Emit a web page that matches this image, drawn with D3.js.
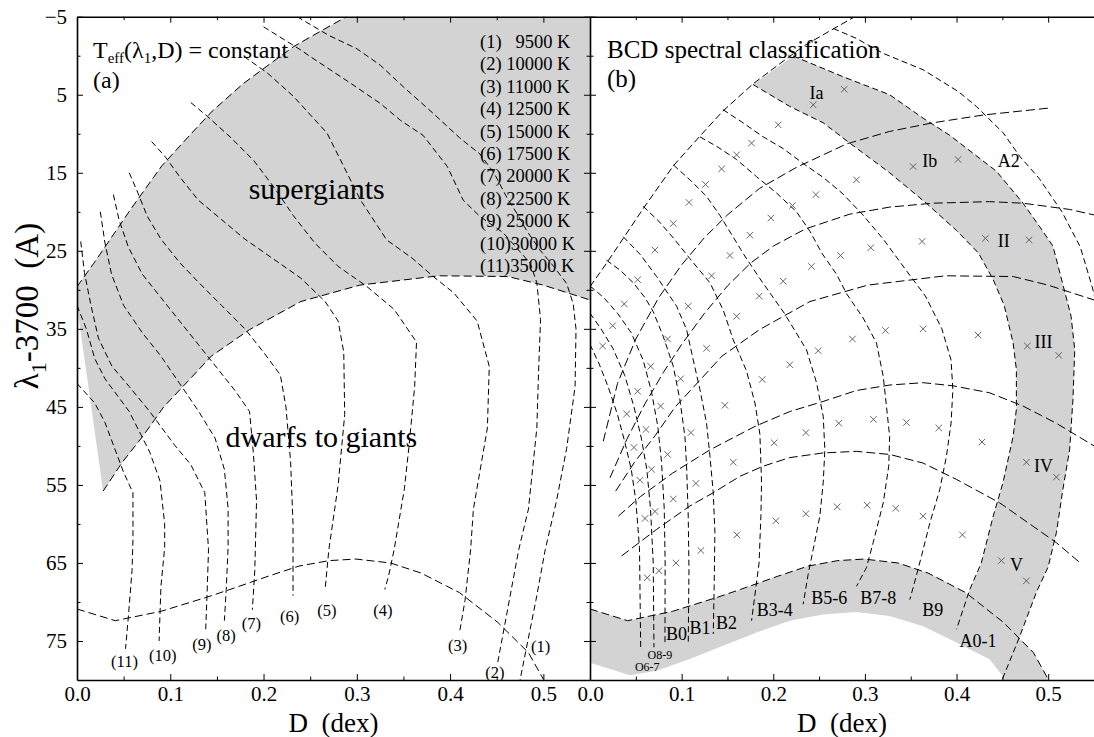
<!DOCTYPE html>
<html><head><meta charset="utf-8">
<script src="https://cdn.jsdelivr.net/npm/d3@7"></script>
<style>
body{margin:0;background:#fff;}
svg{display:block;}
text{font-family:"Liberation Serif","Times New Roman",serif;fill:#000;}
</style></head><body>
<svg id="chart" width="1094" height="737"></svg>
<script>
// ---------------- DATA ----------------
const xMajorTicks = [0, 0.1, 0.2, 0.3, 0.4, 0.5];
const xMinorTicks = [0.05, 0.15, 0.25, 0.35, 0.45];
const yMajorTicks = [-5, 5, 15, 25, 35, 45, 55, 65, 75];
const yMinorTicks = [0, 10, 20, 30, 40, 50, 60, 70];

const legendEntries = ["(1)   9500 K","(2) 10000 K","(3) 11000 K","(4) 12500 K","(5) 15000 K",
  "(6) 17500 K","(7) 20000 K","(8) 22500 K","(9) 25000 K","(10)30000 K","(11)35000 K"];

// supergiant envelope (upper boundary), shared by both panels
const envelope = [[0,29.6],[0.018,26.6],[0.0363,23.4],[0.058,19.6],[0.091,14.1],[0.12,10.3],[0.145,7.1],
  [0.178,3.6],[0.204,1.3],[0.2326,-1.2],[0.262,-3.2],[0.289,-5]];
// lower boundary of supergiants (also II/III line in panel b)
const supergiantLower = [[0.028,55.8],[0.0485,52.1],[0.071,48.7],[0.093,45],[0.119,41.7],[0.144,38.5],
  [0.185,35.1],[0.24,31.5],[0.303,29.4],[0.388,28.2],[0.462,28.3],[0.5,29.4],[0.55,31.3]];
const sliverEdge = [[0,32]];
// lower (dwarf) boundary arc
const bottomArc = [[0,70.9],[0.041,72.4],[0.09,71.2],[0.139,69.4],[0.164,68.4],[0.205,66.7],[0.238,65.4],
  [0.2705,64.7],[0.299,64.5],[0.336,65.0],[0.369,66.3],[0.41,68.8],[0.451,72.6],[0.484,76.5],[0.5,79.9]];

// Teff = constant curves, panel (a)
const teff1 = [[0.236,-5],[0.27,-2.6],[0.3,-0.9],[0.325,1.2],[0.35,4],[0.382,7.4],[0.41,10.5],[0.432,12.6],
  [0.447,15],[0.461,18.2],[0.4716,20.2],[0.482,22.4],[0.497,25],[0.511,27],[0.525,29.2],[0.532,31.8],[0.535,35],
  [0.534,42.4],[0.525,50.3],[0.514,57.1],[0.502,63.3],[0.492,69.8],[0.475,80]];
const teff2 = [[0.2,-3.7],[0.239,-0.8],[0.25,0.1],[0.293,3.5],[0.325,6.1],[0.347,8.3],[0.371,10.2],[0.397,14.2],
  [0.414,18.5],[0.432,20.6],[0.457,22.7],[0.486,26.6],[0.493,29.1],[0.497,33.8],[0.495,40],[0.493,47.7],
  [0.484,58.1],[0.4736,63.3],[0.451,77.8]];
const teff3 = [[0.179,0.1],[0.204,2.2],[0.232,5.2],[0.268,9.9],[0.286,14.2],[0.304,18.5],[0.332,23.6],[0.36,26],
  [0.382,28.3],[0.404,30.4],[0.429,34],[0.442,39.8],[0.44,47.7],[0.425,58.1],[0.422,63.3],[0.416,69.8],[0.41,74]];
const teff4 = [[0.122,6],[0.14,7.8],[0.165,10.5],[0.19,13.5],[0.212,17],[0.232,20.5],[0.255,24],[0.28,27],
  [0.31,29.5],[0.34,32.5],[0.364,36.7],[0.362,42.4],[0.356,50],[0.351,55.5],[0.34,63.3],[0.334,66.7],[0.33,68.4]];
const teff5 = [[0.08,11],[0.095,13],[0.11,15.5],[0.13,18.5],[0.155,21],[0.18,23.5],[0.21,26],[0.24,28.5],
  [0.266,31.5],[0.28,34],[0.286,38],[0.287,46],[0.28,55],[0.27,63.3],[0.266,68.4]];
const teff6 = [[0.056,15],[0.065,17.5],[0.075,20.5],[0.09,23.5],[0.11,26.5],[0.13,29],[0.155,32],[0.18,35],
  [0.2,38],[0.218,40.9],[0.224,45],[0.229,52],[0.2316,60],[0.2316,69.2]];
const teff7 = [[0.039,17.8],[0.045,21],[0.055,24.5],[0.07,28],[0.09,31],[0.11,34],[0.13,37],[0.15,40],
  [0.17,43],[0.185,45.6],[0.189,50.8],[0.1925,57],[0.1906,66],[0.188,71]];
const teff8 = [[0.025,20],[0.03,24],[0.037,28],[0.05,32],[0.07,35.5],[0.09,38.5],[0.11,42],[0.13,45.5],
  [0.148,49],[0.158,53],[0.162,58],[0.162,63],[0.16,68.4],[0.158,72.4]];
const teff9 = [[0.004,23.8],[0.008,27.8],[0.015,32],[0.023,36.2],[0.0375,39.8],[0.056,42.4],[0.078,45.6],
  [0.104,49.8],[0.122,52.4],[0.137,56],[0.141,63.3],[0.1395,68.8],[0.138,73.5]];
const teff10 = [[0,32],[0.01,35],[0.019,38.8],[0.03,41.4],[0.056,45.6],[0.078,50.8],[0.089,54.5],[0.094,60],
  [0.094,63],[0.09,68],[0.088,75]];
const teff11 = [[0,42],[0.019,44.5],[0.03,47],[0.05,53.4],[0.06,56],[0.06,62],[0.059,66],[0.055,72],[0.052,76]];
const teffCurves = [teff1,teff2,teff3,teff4,teff5,teff6,teff7,teff8,teff9,teff10,teff11];
const teffLabels = ["(1)","(2)","(3)","(4)","(5)","(6)","(7)","(8)","(9)","(10)","(11)"];
const teffLabelD = [0.497,0.448,0.408,0.328,0.268,0.228,0.187,0.160,0.134,0.092,0.051];
const teffLabelL = [75.7,79.0,75.6,71.1,71.1,71.8,72.7,74.3,75.4,76.8,77.6];

// panel (b): spectral-type lines
const specA2 = [[0.2654,-3.5],[0.291,-2.2],[0.32,-0.3],[0.3635,1.8],[0.402,4.6],[0.4217,6.5],[0.451,9.9],
  [0.469,12.9],[0.49,15.7],[0.515,20],[0.535,24.5],[0.548,29.6],[0.553,32]];
const specA2band = [[0.2217,0.03],[0.2763,2.7],[0.327,5.0],[0.3635,8.0],[0.3926,10.2],[0.418,12.5],[0.4435,14.8],
  [0.4726,18.9],[0.4907,21.9],[0.5052,24.4],[0.516,29.3],[0.525,33.4],[0.529,37.7],[0.527,44.1],[0.5234,50.5],
  [0.516,55.6],[0.509,61.1],[0.5,65.5],[0.487,68.8],[0.469,74.4],[0.4507,79.7],[0.449,80.5]];
const specA01 = [[0.178,3.7],[0.218,6.5],[0.2545,8.6],[0.2835,11.2],[0.327,15],[0.367,18.9],[0.40,22.4],
  [0.424,25.3],[0.44,28.7],[0.452,32],[0.4617,36.8],[0.4653,40.2],[0.4653,45.3],[0.4617,48.8],[0.4507,54.7],
  [0.44,59],[0.427,65],[0.4144,68.4],[0.40,73.5]];
const specB9 = [[0.145,6.9],[0.167,8.6],[0.189,10.4],[0.2108,11.9],[0.2326,13.8],[0.2545,15.6],[0.275,17.6],
  [0.297,20.3],[0.32,23.5],[0.345,27.5],[0.366,30.8],[0.384,35],[0.394,39],[0.396,42.8],[0.394,47.1],
  [0.389,51.3],[0.3817,55.6],[0.3708,59.9],[0.362,64],[0.356,66.7],[0.349,69.7]];
const specB78 = [[0.12,10.4],[0.138,11.6],[0.16,13.3],[0.1817,15.5],[0.2036,17.6],[0.2254,20],[0.24,22.5],
  [0.253,25.3],[0.269,28],[0.28,30.5],[0.298,33.6],[0.3126,36.8],[0.32,41.1],[0.3235,44.9],[0.327,48.8],
  [0.326,52.6],[0.32,57.3],[0.309,62.4],[0.3017,65.6],[0.2908,68]];
const specB56 = [[0.091,14],[0.109,15.9],[0.127,18],[0.142,20.5],[0.155,23],[0.168,25.5],[0.185,28.5],[0.2,31],
  [0.212,33],[0.225,35.5],[0.2363,37.7],[0.2472,41.9],[0.2545,46.2],[0.2563,50.5],[0.2545,54.7],[0.2508,59],
  [0.2435,63.3],[0.238,66.5],[0.2326,70.3]];
const specB34 = [[0.058,19.3],[0.075,21.2],[0.092,23.5],[0.109,26],[0.1309,29.1],[0.1454,32.6],[0.1563,36.4],
  [0.1708,40.4],[0.18,44.5],[0.1854,48.5],[0.1872,54.7],[0.1865,59],[0.1845,65],[0.1763,72.4]];
const specB2 = [[0.0363,23.2],[0.055,25.5],[0.0727,28.3],[0.0945,32.1],[0.1054,35.1],[0.1127,39],[0.12,42.8],
  [0.1272,47.1],[0.1309,51.3],[0.1345,56],[0.1363,61],[0.1355,68],[0.1345,74.1]];
const specB1 = [[0.018,26.2],[0.033,27.5],[0.0473,29.1],[0.06,31],[0.069,32.8],[0.08,36],[0.0909,39.8],
  [0.0981,44.1],[0.1036,48.8],[0.1054,52.6],[0.1072,59],[0.108,65.8],[0.1072,75.4]];
const specB0 = [[0,29.5],[0.015,31],[0.03,33],[0.045,35.5],[0.058,39],[0.067,43],[0.074,47.5],[0.078,52],
  [0.081,58],[0.082,65],[0.0818,75.2]];
const specO89 = [[0,33],[0.012,35],[0.025,37.5],[0.038,41],[0.048,45],[0.056,49],[0.062,53],[0.066,58],
  [0.069,65],[0.0698,75.8]];
const specO67 = [[0,37],[0.01,39.5],[0.02,42.5],[0.03,46],[0.038,49.5],[0.045,53],[0.05,57],[0.054,63],[0.0553,75.8]];
const spectralLines = [specA2,specA2band,specA01,specB9,specB78,specB56,specB34,specB2,specB1,specB0,specO89,specO67];

// panel (b): luminosity-class lines
const lumIaIb = [[0.0145,49.4],[0.03,42],[0.05,36.3],[0.075,31],[0.1,26.8],[0.125,23.3],[0.15,20.4],[0.185,17],
  [0.2254,14.3],[0.28,11.3],[0.327,9.7],[0.374,8.6],[0.429,7.6],[0.5016,6.7]];
const lumIbII = [[0.0218,54.1],[0.04,49.2],[0.06,44.6],[0.08,40.6],[0.1,37],[0.125,33],[0.15,29.5],[0.175,26.6],
  [0.2,24.4],[0.235,22.2],[0.2835,20.3],[0.327,19.4],[0.374,18.9],[0.436,18.7],[0.4726,18.9],[0.5234,19.7],[0.55,20.4]];
const lumIIIIV = [[0.031,59],[0.055,56.5],[0.09,53.5],[0.131,50.5],[0.18,47.5],[0.218,45.6],[0.2545,44.3],
  [0.2908,42.9],[0.3272,42.2],[0.3635,41.9],[0.3962,42.3],[0.4362,43.2],[0.4726,44.9],[0.5089,47.1],[0.55,50]];
const lumIVV = [[0.0345,64.1],[0.0727,60.7],[0.109,57.7],[0.1345,56],[0.1636,53.9],[0.189,52.6],[0.218,51.5],
  [0.2545,50.9],[0.2908,50.7],[0.3272,51.1],[0.3635,52.2],[0.40,54.3],[0.4471,57.3],[0.5089,62.4],[0.535,65]];
const lumLines = [lumIaIb, lumIbII, supergiantLower, lumIIIIV, lumIVV];

// gray band lower edges, panel (b)
const bandJoin = [[0.40,75.2],[0.436,77.3],[0.454,80]];
const bottomBandLower = [[0,77.8],[0.0436,79.4],[0.0727,78.8],[0.109,77.3],[0.145,75.6],[0.182,73.9],[0.218,72.4],
  [0.254,71.6],[0.291,71.3],[0.327,71.8],[0.3635,73.1],[0.40,75.2],[0.436,77.3],[0.454,80]];

// BCD calibration points (x marks)
const bcdMarks = [
 [0.0138,37.2],[0.0247,34.6],[0.0374,31.8],[0.052,28.7],[0.0709,24.9],[0.0909,21.5],[0.108,18.8],[0.1261,16.5],
 [0.1436,14.5],[0.16,12.7],[0.1763,11.2],[0.2054,8.86],[0.2436,6.3],[0.2774,4.3],
 [0.04,45.9],[0.052,43],[0.0662,39.8],[0.0847,36.3],[0.1072,32.1],[0.1327,28.2],[0.1527,25.6],[0.1745,23],
 [0.1974,20.8],[0.221,19.2],[0.2465,17.8],[0.2908,15.9],[0.3526,14.2],[0.4017,13.3],
 [0.048,50.2],[0.0611,47.9],[0.0771,44.9],[0.0989,41.4],[0.1272,37.5],[0.16,33.4],[0.1847,30.8],[0.2108,28.9],
 [0.2417,27],[0.2734,25.6],[0.3064,24.6],[0.3624,23.8],[0.4315,23.4],[0.4791,23.6],
 [0.0545,54.4],[0.0672,53],[0.0847,51.1],[0.1101,48.3],[0.1472,44.8],[0.1879,41.5],[0.2181,39.6],[0.249,37.8],
 [0.2864,36.3],[0.3224,35.2],[0.3635,35],[0.4235,35.8],[0.4773,37.2],[0.5115,38.4],
 [0.06,59.3],[0.0709,58.4],[0.0909,56.8],[0.1156,54.8],[0.1563,52.1],[0.201,49.6],[0.2356,48.3],[0.2715,47.1],
 [0.3093,46.6],[0.3453,47],[0.3806,47.7],[0.4278,49.5],[0.4762,52.1],[0.5089,54],
 [0.0625,66.9],[0.0752,66],[0.0938,65],[0.121,63.4],[0.1603,61.4],[0.2028,59.6],[0.2356,58.7],[0.2697,57.8],
 [0.3024,57.6],[0.3337,58],[0.3635,59],[0.4064,61.4],[0.4489,64.7],[0.4762,67.3]];

const spectralLabels = ["B0","B1","B2","B3-4","B5-6","B7-8","B9","A0-1","A2"];
const spectralLabelD = [0.0945,0.12,0.149,0.2017,0.261,0.3145,0.374,0.4235,0.457];
const spectralLabelL = [74.1,73.3,72.6,71.0,69.4,69.4,71.0,74.9,13.5];
const oLabels = ["O8-9","O6-7"];
const oLabelD = [0.0763,0.0625];
const oLabelL = [76.8,78.3];
const lumLabels = ["Ia","Ib","II","III","IV","V"];
const lumLabelD = [0.2472,0.3708,0.4515,0.495,0.495,0.4653];
const lumLabelL = [4.7,13.4,23.7,36.6,52.6,65.2];

// ---------------- DRAWING ----------------
const svg = d3.select("#chart");
const FONT = '"Liberation Serif","Times New Roman",serif';
const y  = d3.scaleLinear().domain([-5, 80]).range([16.7, 680]);
const xL = d3.scaleLinear().domain([0, 0.55]).range([77, 590]);
const xR = d3.scaleLinear().domain([0, 0.55]).range([590, 1094]);
const GRAY = "#d3d3d3";

const defs = svg.append("defs");
[["clipL", xL], ["clipR", xR]].forEach(([id, x]) => {
  defs.append("clipPath").attr("id", id).append("rect")
    .attr("x", x.range()[0]).attr("y", y.range()[0])
    .attr("width", x.range()[1] - x.range()[0]).attr("height", y.range()[1] - y.range()[0]);
});
const lineOf = x => d3.line().x(d => x(d[0])).y(d => y(d[1]));
const xMax = 0.55, yTop = -5, yBot = 80;

// ---- panel (a)
const gL = svg.append("g").attr("clip-path", "url(#clipL)");
const polyA = [...envelope, [xMax, yTop], [xMax, supergiantLower[supergiantLower.length-1][1]],
  ...supergiantLower.slice().reverse(), ...sliverEdge];
gL.append("path").attr("d", lineOf(xL)(polyA) + "Z").attr("fill", GRAY);

function dashed(g, x, data, dash, w) {
  g.append("path").attr("d", lineOf(x)(data)).attr("fill", "none").attr("stroke", "#000")
    .attr("stroke-width", w || 1).attr("stroke-dasharray", dash);
}
dashed(gL, xL, envelope, "8,4");
dashed(gL, xL, supergiantLower, "8,4");
dashed(gL, xL, bottomArc, "8,4");
teffCurves.forEach(c => dashed(gL, xL, c, "6,3.5"));

teffLabels.forEach((t, i) => {
  gL.append("text").attr("x", xL(teffLabelD[i])).attr("y", y(teffLabelL[i])).attr("dy", "0.35em")
    .attr("text-anchor", "middle").attr("font-size", 16.5).text(t);
});

gL.append("text").attr("x", xL(0.257)).attr("y", y(17.2)).attr("dy", "0.3em")
  .attr("text-anchor", "middle").attr("font-size", 30).text("supergiants");
gL.append("text").attr("x", xL(0.262)).attr("y", y(49)).attr("dy", "0.3em")
  .attr("text-anchor", "middle").attr("font-size", 30).text("dwarfs to giants");

legendEntries.forEach((t, i) => {
  gL.append("text").attr("x", 480).attr("y", 48 + i * 22.4).attr("font-size", 18.5)
    .style("white-space", "pre").text(t);
});

// title (a)
const tA = svg.append("text").attr("x", 93).attr("y", 58).attr("font-size", 24);
tA.append("tspan").text("T");
tA.append("tspan").attr("font-size", 15).attr("dy", 4.5).text("eff");
tA.append("tspan").attr("dy", -4.5).text("(λ");
tA.append("tspan").attr("font-size", 15).attr("dy", 4.5).text("1");
tA.append("tspan").attr("dy", -4.5).text(",D) = constant");
svg.append("text").attr("x", 93).attr("y", 88).attr("font-size", 24).text("(a)");

// ---- panel (b)
const gR = svg.append("g").attr("clip-path", "url(#clipR)");
const polyV = [...specA01, ...bandJoin, ...specA2band.slice().reverse()];
gR.append("path").attr("d", lineOf(xR)(polyV) + "Z").attr("fill", GRAY);
const polyBottom = [...bottomArc, [bottomArc[bottomArc.length-1][0], yBot], ...bottomBandLower.slice().reverse()];
gR.append("path").attr("d", lineOf(xR)(polyBottom) + "Z").attr("fill", GRAY);

dashed(gR, xR, envelope, "7,3.5");
dashed(gR, xR, bottomArc, "8,4");
lumLines.forEach(c => dashed(gR, xR, c, "9,4"));
spectralLines.forEach(c => dashed(gR, xR, c, "6,3.5"));

const xSymbol = { draw(ctx, size) { const r = Math.sqrt(size) / 2;
  ctx.moveTo(-r, -r); ctx.lineTo(r, r); ctx.moveTo(-r, r); ctx.lineTo(r, -r); } };
gR.selectAll("path.mark").data(bcdMarks).join("path").attr("class", "mark")
  .attr("transform", d => `translate(${xR(d[0])},${y(d[1])})`)
  .attr("d", d3.symbol().type(xSymbol).size(42)())
  .attr("fill", "none").attr("stroke", "#555").attr("stroke-width", 0.9);

spectralLabels.forEach((t, i) => {
  gR.append("text").attr("x", xR(spectralLabelD[i])).attr("y", y(spectralLabelL[i])).attr("dy", "0.35em")
    .attr("text-anchor", "middle").attr("font-size", 18).text(t);
});
oLabels.forEach((t, i) => {
  gR.append("text").attr("x", xR(oLabelD[i])).attr("y", y(oLabelL[i])).attr("dy", "0.35em")
    .attr("text-anchor", "middle").attr("font-size", 12).text(t);
});
lumLabels.forEach((t, i) => {
  gR.append("text").attr("x", xR(lumLabelD[i])).attr("y", y(lumLabelL[i])).attr("dy", "0.35em")
    .attr("text-anchor", "middle").attr("font-size", 18).text(t);
});
svg.append("text").attr("x", 607).attr("y", 57.5).attr("font-size", 25).text("BCD spectral classification");
svg.append("text").attr("x", 607).attr("y", 87).attr("font-size", 25).text("(b)");

// ---- axes
function styleAxis(g, fs) {
  g.selectAll(".domain").attr("stroke", "#000").attr("stroke-width", 1.6);
  g.selectAll(".tick line").attr("stroke", "#000").attr("stroke-width", 1);
  g.selectAll("text").attr("font-family", FONT).attr("font-size", fs).attr("fill", "#000");
}
function addAxis(axisFn, scale, tx, ty, values, size, fmt, keepDomain) {
  const g = svg.append("g").attr("transform", `translate(${tx},${ty})`)
    .call(axisFn(scale).tickValues(values).tickSize(-size).tickSizeOuter(0).tickPadding(6).tickFormat(fmt));
  styleAxis(g, 21);
  if (!keepDomain) g.select(".domain").remove();
  return g;
}
const fmtX = d3.format(".1f"), none = () => "";
[xL, xR].forEach(x => {
  addAxis(d3.axisBottom, x, 0, y(yBot), xMajorTicks, 6, fmtX, true);
  addAxis(d3.axisBottom, x, 0, y(yBot), xMinorTicks, 3.5, none, false);
  addAxis(d3.axisTop, x, 0, y(yTop), xMajorTicks, 6, none, true);
  addAxis(d3.axisTop, x, 0, y(yTop), xMinorTicks, 3.5, none, false);
});
const yAx = addAxis(d3.axisLeft, y, xL(0), 0, yMajorTicks, 6, d3.format("d"), true);
yAx.selectAll("text").attr("x", -10);
addAxis(d3.axisLeft, y, xL(0), 0, yMinorTicks, 3.5, none, false);
addAxis(d3.axisRight, y, xL(xMax), 0, yMajorTicks, 6, none, true);
addAxis(d3.axisRight, y, xL(xMax), 0, yMinorTicks, 3.5, none, false);
addAxis(d3.axisLeft, y, xR(0), 0, yMajorTicks, 6, none, false);
addAxis(d3.axisLeft, y, xR(0), 0, yMinorTicks, 3.5, none, false);

// axis titles
[xL, xR].forEach(x => {
  svg.append("text").attr("x", (x.range()[0] + x.range()[1]) / 2).attr("y", 732)
    .attr("text-anchor", "middle").attr("font-size", 27).style("white-space", "pre").text("D  (dex)");
});
const yl = svg.append("text").attr("transform", "translate(38,306) rotate(-90)")
  .attr("text-anchor", "middle").attr("font-size", 33).style("white-space", "pre");
yl.append("tspan").text("λ");
yl.append("tspan").attr("font-size", 22).attr("dy", 8).text("1");
yl.append("tspan").attr("dy", -8).text("-3700  (A)");
</script></body></html>
